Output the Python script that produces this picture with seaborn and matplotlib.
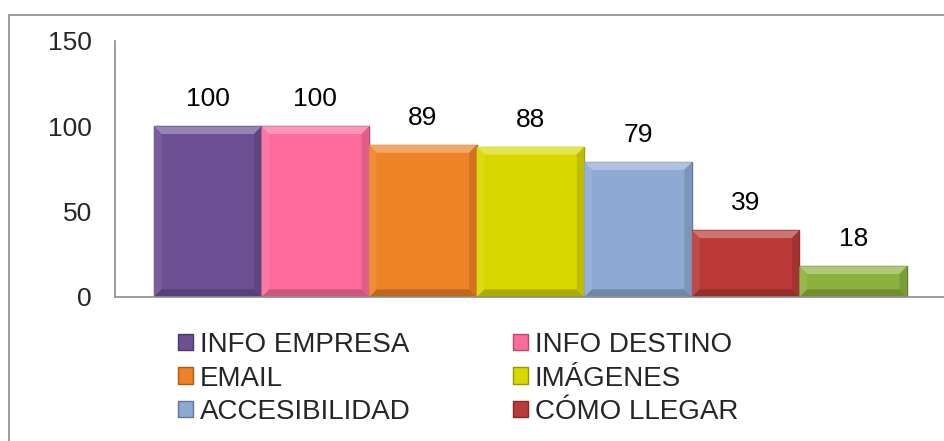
import matplotlib
matplotlib.use("Agg")
import matplotlib.pyplot as plt
import seaborn as sns
import pandas as pd
from matplotlib.patches import Rectangle, Patch, Polygon
from matplotlib.colors import to_rgb

categories = ["INFO EMPRESA", "INFO DESTINO", "EMAIL", "IMÁGENES",
              "ACCESIBILIDAD", "CÓMO LLEGAR", "OTROS"]
values = [100, 100, 89, 88, 79, 39, 18]
colors = ["#6C5093", "#FF6B9C", "#EE8226", "#D8D800",
          "#8DA9D4", "#B93A37", "#8CB23E"]
yticks = [0, 50, 100, 150]


def shade(c, f):
    r, g, b = to_rgb(c)
    if f > 0:
        return (r + (1 - r) * f, g + (1 - g) * f, b + (1 - b) * f)
    return (r * (1 + f), g * (1 + f), b * (1 + f))


df = pd.DataFrame({"cat": categories, "val": values})

sns.set_style("white")
plt.rcParams["font.family"] = ["Liberation Sans", "DejaVu Sans"]

fig = plt.figure(figsize=(9.45, 4.41), dpi=100)
ax = fig.add_axes([115 / 945, 1 - 297 / 441, 831 / 945, 256 / 441])

sns.barplot(data=df, x="cat", y="val", hue="cat", palette=colors,
            width=1.0, legend=False, ax=ax, saturation=1)

ax.set_xlim(-0.862, 6.862)
ax.set_ylim(0, 150)

# bevel look: light top, dark sides and bottom
bx, by = 0.07, 4.5
for bar, c in zip(ax.patches[:len(values)], colors):
    bar.set_edgecolor(shade(c, -0.3))
    bar.set_linewidth(1.0)
    x0, w, h = bar.get_x(), bar.get_width(), bar.get_height()
    x1 = x0 + w
    top = [(x0, h), (x1, h), (x1 - bx, h - by), (x0 + bx, h - by)]
    bot = [(x0, 0), (x1, 0), (x1 - bx, by), (x0 + bx, by)]
    lft = [(x0, 0), (x0, h), (x0 + bx, h - by), (x0 + bx, by)]
    rgt = [(x1, 0), (x1, h), (x1 - bx, h - by), (x1 - bx, by)]
    for pts, f in [(top, 0.3), (bot, -0.2), (lft, 0.08), (rgt, -0.12)]:
        ax.add_patch(Polygon(pts, closed=True, facecolor=shade(c, f),
                             edgecolor="none", zorder=bar.get_zorder() + 0.1))

for bar, v in zip(ax.patches[:len(values)], values):
    ax.annotate(str(v), (bar.get_x() + bar.get_width() / 2, bar.get_height()),
                xytext=(0, 11), textcoords="offset points",
                ha="center", va="bottom", fontsize=19, color="black")

ax.set_yticks(yticks)
ax.set_yticklabels([str(t) for t in yticks], fontsize=19)
ax.tick_params(axis="y", length=0, pad=16.5)
ax.set_xticks([])
ax.set_xlabel("")
ax.set_ylabel("")
for s in ["top", "right"]:
    ax.spines[s].set_visible(False)
for s in ["left", "bottom"]:
    ax.spines[s].set_color("#8c8c8c")
    ax.spines[s].set_linewidth(1.2)

# legend in row order (2 columns), last series is cut off in the original
order = [0, 2, 4, 1, 3, 5]
handles = [Patch(facecolor=colors[i], edgecolor=shade(colors[i], -0.3),
                 label=categories[i]) for i in order]
fig.legend(handles=handles, ncol=2, loc="upper left",
           bbox_to_anchor=(178 / 945, 1 - 332 / 441), frameon=False,
           fontsize=20, handlelength=0.54, handleheight=0.54,
           handletextpad=0.25, columnspacing=3.67, labelspacing=0.27,
           borderaxespad=0, borderpad=0)

fig.patches.append(Rectangle((9 / 945, -0.1), 1.2, 1.1 - 15 / 441,
                             transform=fig.transFigure, fill=False,
                             edgecolor="#8c8c8c", linewidth=1.2))

fig.savefig("out.png", dpi=100)
plt.close(fig)
